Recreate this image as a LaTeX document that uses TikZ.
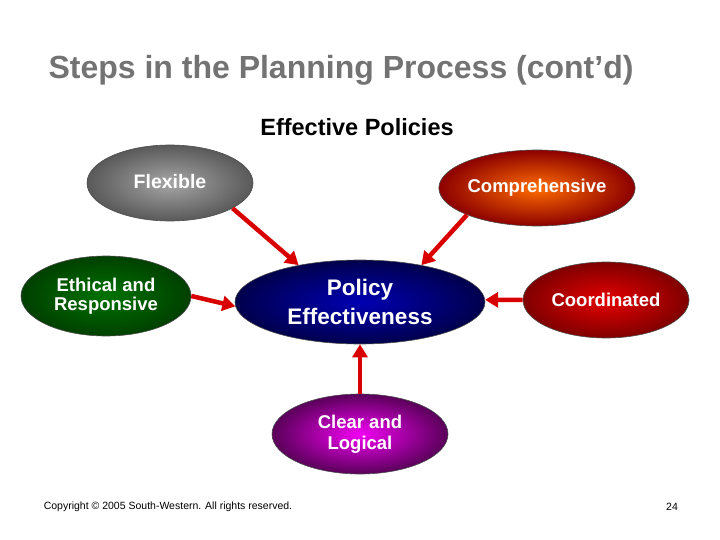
\documentclass[tikz,border=0pt]{standalone}
\usepackage{fontspec}
\setmainfont{Liberation Sans}
\usetikzlibrary{shapes.geometric,arrows.meta}
\begin{document}
\begin{tikzpicture}[x=1pt,y=-1pt,
 ell/.style={ellipse,inner sep=0pt,draw=black!70,line width=0.6pt,minimum width=#1,align=center,text=white,font=\bfseries\fontsize{18.5}{20}\selectfont},
 arr/.style={draw=red!85!black,line width=4.5pt,-{Triangle[length=13pt,width=15pt]}},
 txt/.style={inner sep=0}]
\useasboundingbox (0,0) rectangle (720,540);
\node[txt,text=black!55,font=\bfseries\fontsize{32}{36}\selectfont] (title) at (341,70) {Steps in the Planning Process (cont’d)};
\node[txt,font=\bfseries\fontsize{23.5}{26}\selectfont] (sub) at (357,127) {Effective Policies};
\node[ell=166pt,minimum height=76pt,inner color=black!35,outer color=black!65] (flex) at (170,183) {};
\node[txt,text=white,font=\bfseries\fontsize{19.5}{20}\selectfont] (flext) at (170,182) {Flexible};
\node[ell=160pt,minimum height=76pt,inner color=orange!85!red,outer color=red!55!black] (comp) at (537,188) {Comprehensive};
\node[ell=170pt,minimum height=80pt,inner color=green!45!black,outer color=green!25!black,font=\bfseries\fontsize{18.5}{19}\selectfont] (eth) at (106,296) {Ethical and\\Responsive};
\node[ell=250pt,minimum height=84pt,inner color=blue!70!black,outer color=blue!30!black,font=\bfseries\fontsize{22.5}{29}\selectfont] (pol) at (360,302) {Policy\\Effectiveness};
\node[ell=166pt,minimum height=76pt,inner color=red!90!black,outer color=red!50!black] (coord) at (606,300) {Coordinated};
\node[ell=176pt,minimum height=80pt,inner color=magenta!90!violet,outer color=violet!70!black,font=\bfseries\fontsize{18.5}{21}\selectfont] (clear) at (360,434) {Clear and\\Logical};
\draw[arr] (flex.-22) -- (pol.149);
\draw[arr] (comp.-159) -- (pol.31);
\draw[arr] (eth.east) -- (pol.182);
\draw[arr] (coord.west) -- (pol.1);
\draw[arr] (clear.north) -- (pol.south);
\node[txt,font=\fontsize{10.5}{12}\selectfont] (copy) at (168,507) {Copyright © 2005 South-Western. All rights reserved.};
\node[txt,font=\fontsize{10.5}{12}\selectfont] (pg) at (672,507) {24};
\end{tikzpicture}
\end{document}
